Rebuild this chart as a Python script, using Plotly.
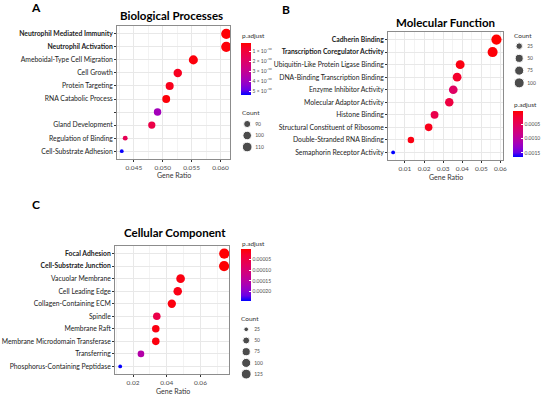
import numpy as np
import plotly.graph_objects as go

W, H = 550, 398
FONT = "Lato"

# ---------------- data ----------------
bp_terms = ["Neutrophil Mediated Immunity", "Neutrophil Activation", "Ameboidal-Type Cell Migration",
            "Cell Growth", "Protein Targeting", "RNA Catabolic Process", " ",
            "Gland Development", "Regulation of Binding", "Cell-Substrate Adhesion"]
bp_ratio = [0.0610, 0.0610, 0.0553, 0.0526, 0.0512, 0.0506, 0.0491, 0.0481, 0.0435, 0.0429]
bp_count = [115, 115, 104, 99, 96, 95, 92, 91, 82, 81]
bp_padj = [0.25e-10, 0.30e-10, 0.35e-10, 0.6e-10, 0.55e-10, 0.3e-10, 3.9e-10, 1.3e-10, 1.6e-10, 5.35e-10]
bp_bold = [True, True] + [False] * 8
bp_cnt_legend = [90, 100, 110]
bp_padj_ticks = [1e-10, 2e-10, 3e-10, 4e-10, 5e-10]
bp_padj_ticktext = ["1 × 10⁻¹⁰", "2 × 10⁻¹⁰", "3 × 10⁻¹⁰", "4 × 10⁻¹⁰", "5 × 10⁻¹⁰"]
bp_padj_range = [0.2e-10, 5.4e-10]

mf_terms = ["Cadherin Binding", "Transcription Coregulator Activity", "Ubiquitin-Like Protein Ligase Binding",
            "DNA-Binding Transcription Binding", "Enzyme Inhibitor Activity", "Molecular Adaptor Activity",
            "Histone Binding", "Structural Constituent of Ribosome", "Double-Stranded RNA Binding",
            "Semaphorin Receptor Activity"]
mf_ratio = [0.0579, 0.0559, 0.0389, 0.0373, 0.0353, 0.0332, 0.0255, 0.0224, 0.0131, 0.0038]
mf_count = [106, 102, 71, 68, 65, 61, 47, 41, 24, 7]
mf_padj = [0.00005, 0.00008, 0.00012, 0.00022, 0.00058, 0.00035, 0.00042, 0.00015, 0.00012, 0.00164]
mf_bold = [True, True] + [False] * 8
mf_cnt_legend = [25, 50, 75, 100]
mf_padj_ticks = [0.0005, 0.0010, 0.0015]
mf_padj_ticktext = ["0.0005", "0.0010", "0.0015"]
mf_padj_range = [0.00005, 0.00164]

cc_terms = ["Focal Adhesion", "Cell-Substrate Junction", "Vacuolar Membrane", "Cell Leading Edge",
            "Collagen-Containing ECM", "Spindle", "Membrane Raft", "Membrane Microdomain Transferase",
            "Transferring", "Phosphorus-Containing Peptidase"]
cc_ratio = [0.0741, 0.0740, 0.0482, 0.0465, 0.0430, 0.0341, 0.0335, 0.0335, 0.0247, 0.0124]
cc_count = [136, 135, 88, 85, 79, 62, 61, 61, 45, 23]
cc_padj = [0.000003, 0.000004, 0.000012, 0.000014, 0.000010, 0.000055, 0.000012, 0.000010, 0.000155, 0.000242]
cc_bold = [True, True] + [False] * 8
cc_cnt_legend = [25, 50, 75, 100, 125]
cc_padj_ticks = [0.00005, 0.00010, 0.00015, 0.00020]
cc_padj_ticktext = ["0.00005", "0.00010", "0.00015", "0.00020"]
cc_padj_range = [0.000002, 0.000243]


# ---------------- helpers ----------------
def px(x):
    return x / W


def py(y):
    return 1 - y / H


def _lin(c):
    c = c / 255
    return c / 12.92 if c <= 0.04045 else ((c + 0.055) / 1.055) ** 2.4


def _gam(c):
    c = 12.92 * c if c <= 0.0031308 else 1.055 * c ** (1 / 2.4) - 0.055
    return int(round(min(max(c, 0), 1) * 255))


M = np.array([[0.4124, 0.3576, 0.1805], [0.2126, 0.7152, 0.0722], [0.0193, 0.1192, 0.9505]])
WP = np.array([0.95047, 1.0, 1.08883])


def to_lab(rgb):
    xyz = M @ np.array([_lin(c) for c in rgb]) / WP
    f = np.where(xyz > 0.008856, np.cbrt(xyz), 7.787 * xyz + 16 / 116)
    return np.array([116 * f[1] - 16, 500 * (f[0] - f[1]), 200 * (f[1] - f[2])])


def from_lab(lab):
    fy = (lab[0] + 16) / 116
    fx = fy + lab[1] / 500
    fz = fy - lab[2] / 200
    f = np.array([fx, fy, fz])
    xyz = np.where(f ** 3 > 0.008856, f ** 3, (f - 16 / 116) / 7.787) * WP
    rgb = np.linalg.solve(M, xyz)
    return "rgb(%d,%d,%d)" % tuple(_gam(c) for c in rgb)


RED, BLUE = to_lab((255, 0, 0)), to_lab((0, 0, 255))
# colorbar is reversed (low p at top): plot -p, so bottom (=-pmax) is blue, top is red
SCALE = [[t, from_lab(BLUE + (RED - BLUE) * t)] for t in np.linspace(0, 1, 11)]


def dot_sizes(vals, data):
    lo, hi = min(data), max(data)
    return [3.8 + np.sqrt(max(v - lo, 0) / (hi - lo)) * 6.4 for v in vals]


fig = go.Figure()

panels = [
    dict(terms=bp_terms, ratio=bp_ratio, count=bp_count, padj=bp_padj, bold=bp_bold,
         xdom=(118, 232), ydom=(26, 159), xr=(0.0421, 0.0617), dt=0.005, x0=0.045, fmt=".3f",
         cleg=bp_cnt_legend, cleg_x=(244, 254), cleg_y=(118.25, 152.75),
         ticks=bp_padj_ticks, ticktext=bp_padj_ticktext, prange=bp_padj_range,
         cb=(243, 43, 52), gr=(175, 175)),
    dict(terms=mf_terms, ratio=mf_ratio, count=mf_count, padj=mf_padj, bold=mf_bold,
         xdom=(391, 507), ydom=(32, 160), xr=(0.0012, 0.0615), dt=0.01, x0=0.01, fmt=".2f",
         cleg=mf_cnt_legend, cleg_x=(518, 528), cleg_y=(40, 89),
         ticks=mf_padj_ticks, ticktext=mf_padj_ticktext, prange=mf_padj_range,
         cb=(517, 111, 46), gr=(449, 177)),
    dict(terms=cc_terms, ratio=cc_ratio, count=cc_count, padj=cc_padj, bold=cc_bold,
         xdom=(116, 231), ydom=(246, 374), xr=(0.0094, 0.0771), dt=0.02, x0=0.02, fmt=".2f",
         cleg=cc_cnt_legend, cleg_x=(243, 253), cleg_y=(323.7, 379.7),
         ticks=cc_padj_ticks, ticktext=cc_padj_ticktext, prange=cc_padj_range,
         cb=(243, 249, 52), gr=(174, 391)),
]

layout = dict(width=W, height=H, margin=dict(l=0, r=0, t=0, b=0),
              paper_bgcolor="white", plot_bgcolor="white", showlegend=False,
              font=dict(family=FONT, color="#333333"))
annotations = []

for i, p in enumerate(panels):
    n = i + 1
    ax = "" if n == 1 else str(n)
    la = 3 + n  # legend axis index
    cax = "coloraxis" + ("" if n == 1 else str(n))

    fig.add_trace(go.Scatter(
        x=p["ratio"], y=p["terms"], mode="markers", xaxis="x" + ax, yaxis="y" + ax,
        marker=dict(size=dot_sizes(p["count"], p["count"]), color=[-v for v in p["padj"]],
                    coloraxis=cax, line=dict(width=0), opacity=1),
        hoverinfo="x+y"))

    ticktext = ["<b>%s</b>" % t if b else t for t, b in zip(p["terms"], p["bold"])]
    nrow = len(p["terms"])
    layout["xaxis" + ax] = dict(
        domain=[px(p["xdom"][0]), px(p["xdom"][1])], anchor="y" + ax, range=list(p["xr"]),
        tick0=p["x0"], dtick=p["dt"], ticks="outside", ticklen=2, tickcolor="#333333",
        tickfont=dict(size=6.5, color="#4D4D4D"), showgrid=True, gridcolor="#E8E8E8", gridwidth=0.8,
        minor=dict(dtick=p["dt"] / 2, tick0=p["x0"], showgrid=True, gridcolor="#F3F3F3", gridwidth=0.5),
        showline=True, mirror=True, linecolor="#8C8C8C", linewidth=1, zeroline=False,
        tickformat=p["fmt"])
    layout["yaxis" + ax] = dict(
        domain=[py(p["ydom"][1]), py(p["ydom"][0])], anchor="x" + ax, type="category",
        categoryorder="array", categoryarray=p["terms"], range=[nrow - 0.4, -0.6],
        tickvals=p["terms"], ticktext=ticktext, ticks="outside", ticklen=2, tickcolor="#333333",
        tickfont=dict(size=6.8, color="#222222"), showgrid=True, gridcolor="#E8E8E8", gridwidth=0.8,
        showline=True, mirror=True, linecolor="#8C8C8C", linewidth=1, zeroline=False)

    # colour axis (negated so low p.adjust sits at the top, like the reference)
    layout[cax] = dict(
        colorscale=SCALE, cmin=-p["prange"][1], cmax=-p["prange"][0],
        colorbar=dict(x=px(p["cb"][0]), xanchor="left", y=py(p["cb"][1]), yanchor="top",
                      len=p["cb"][2], lenmode="pixels", thickness=10, thicknessmode="pixels",
                      xpad=0, ypad=0, outlinewidth=0, ticks="inside", ticklen=2, tickcolor="white",
                      tickvals=[-v for v in p["ticks"]], ticktext=p["ticktext"],
                      tickfont=dict(size=5, color="#4D4D4D", family=FONT)))

    # size legend drawn on a small hidden axis
    cl = p["cleg"]
    labels = [str(v) for v in cl]
    fig.add_trace(go.Scatter(
        x=[0.5] * len(cl), y=labels, mode="markers", xaxis="x%d" % la, yaxis="y%d" % la,
        marker=dict(size=dot_sizes(cl, p["count"]), color="black"), hoverinfo="skip"))
    layout["xaxis%d" % la] = dict(domain=[px(p["cleg_x"][0]), px(p["cleg_x"][1])], range=[0, 1],
                                  anchor="y%d" % la, visible=False, fixedrange=True)
    layout["yaxis%d" % la] = dict(domain=[py(p["cleg_y"][1]), py(p["cleg_y"][0])], anchor="x%d" % la,
                                  type="category", categoryorder="array", categoryarray=labels,
                                  range=[len(cl) - 0.5, -0.5], side="right", showgrid=False,
                                  showline=False, zeroline=False, ticks="", ticklabelstandoff=2,
                                  tickfont=dict(size=5, color="#4D4D4D"), fixedrange=True)

    annotations.append(dict(text="Gene Ratio", x=px(p["gr"][0]), y=py(p["gr"][1]), xref="paper", yref="paper",
                            showarrow=False, xanchor="center", yanchor="middle",
                            font=dict(size=7, color="#333333", family=FONT)))

# titles, panel letters, legend titles
texts = [
    ("A", 36, 8, 12, True, "center"), ("B", 288, 9, 12, True, "center"), ("C", 36, 204, 12, True, "center"),
    ("Biological Processes", 173, 16, 11.5, True, "center"),
    ("Molecular Function", 449, 22, 11.5, True, "center"),
    ("Cellular Component", 176, 232, 11.5, True, "center"),
    ("p.adjust", 242, 36, 6.5, False, "left"), ("Count", 242, 112, 6.5, False, "left"),
    ("Count", 516, 35, 6.5, False, "left"), ("p.adjust", 516, 105, 6.5, False, "left"),
    ("p.adjust", 242, 243, 6.5, False, "left"), ("Count", 241, 318, 6.5, False, "left"),
]
for t, x, y, s, b, al in texts:
    annotations.append(dict(text="<b>%s</b>" % t if b else t, x=px(x), y=py(y), xref="paper", yref="paper",
                            showarrow=False, xanchor=al, yanchor="middle",
                            font=dict(size=s, color="black" if b else "#333333", family=FONT)))
layout["annotations"] = annotations

fig.update_layout(**layout)
fig.write_html("out.html", config={"displayModeBar": False},
               post_script="document.body.style.margin='0';document.body.style.overflow='hidden';")
